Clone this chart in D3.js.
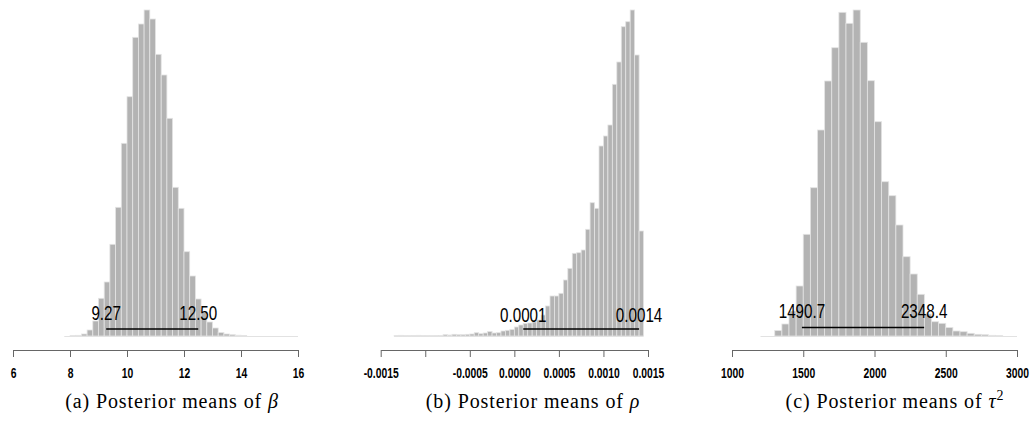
<!DOCTYPE html>
<html>
<head>
<meta charset="utf-8">
<script src="https://cdn.jsdelivr.net/npm/d3@7"></script>
<style>
  body { margin: 0; background: #fff; }
  .ci-label { font-family: "Liberation Sans", Arial, sans-serif; font-size: 20px; fill: #000; }
  .caption { font-family: "Liberation Serif", "Times New Roman", serif; font-size: 20px; letter-spacing: 0.9px; fill: #000; }
</style>
</head>
<body>
<svg id="chart"></svg>
<script>

var svgWidth = 1031;
var svgHeight = 430;

// Histogram data (heights, bins of equal width) //
var betaStart = 7.8, betaWidth = 0.2;
var betaFreq = [0, 0.3, 0.7, 2, 6, 15, 37.7, 54, 91.7, 128.7, 192.7, 239.3, 298.7, 312, 326, 317,
  281.7, 261, 217.7, 148.7, 127.7, 84.3, 60, 37, 23.7, 14, 8, 3.5, 2, 1.3, 0.8, 0.5,
  0, 0, 0, 0, 0, 0, 0, 0, 0];
var betaTicks = [6, 8, 10, 12, 14, 16];
var betaTickLabels = ["6", "8", "10", "12", "14", "16"];
var betaCI = [9.27, 12.50];
var betaCILabels = ["9.27", "12.50"];

var rhoStart = -0.00135, rhoWidth = 0.00005;
var rhoFreq = [0.3, 0.7, 0.3, 0.3, 0.5, 0.7, 0.3, 0.3, 0.3, 0.5, 0.5, 1.3, 1, 1.7, 1.3, 1.3, 1.7, 2,
  3.3, 2.3, 3, 4.5, 3, 3.3, 5, 5.7, 6.5, 9, 11, 12.5, 13, 14, 16, 21, 30, 40, 40, 42.7, 56, 67.7,
  82.7, 83.3, 86, 106.7, 133.3, 127.7, 190, 200, 211, 251.7, 274, 309.3, 314.3, 326, 281, 105];
var rhoTicks = [-0.0015, -0.001, -0.0005, 0, 0.0005, 0.001, 0.0015];
var rhoTickLabels = ["-0.0015", "", "-0.0005", "0.0000", "0.0005", "0.0010", "0.0015"];
var rhoCI = [0.0001, 0.0014];
var rhoCILabels = ["0.0001", "0.0014"];

var tauStart = 1200, tauWidth = 50;
var tauFreq = [0, 0, 5.5, 12, 25, 50, 101.7, 148.3, 206, 255, 288.3, 323.7, 312.7, 326, 293.7, 255.3,
  214.3, 154.3, 140.3, 111, 79.3, 62, 41.7, 22, 14.3, 12.7, 8.5, 5, 4.3, 2.7, 1.7, 1.3, 0.7, 0.3, 0, 0];
var tauTicks = [1000, 1500, 2000, 2500, 3000];
var tauTickLabels = ["1000", "1500", "2000", "2500", "3000"];
var tauCI = [1490.7, 2348.4];
var tauCILabels = ["1490.7", "2348.4"];

// Layout //
var baseY = 336, topY = 10, axisY = 350, captionY = 408;

var panels = [
  { start: betaStart, width: betaWidth, freq: betaFreq, ticks: betaTicks, tickLabels: betaTickLabels,
    ci: betaCI, ciLabels: betaCILabels, domain: [6, 16], range: [13, 298], ciY: 329, labelY: 320,
    captionX: 172, caption: ["(a) Posterior means of ", "β", ""] },
  { start: rhoStart, width: rhoWidth, freq: rhoFreq, ticks: rhoTicks, tickLabels: rhoTickLabels,
    ci: rhoCI, ciLabels: rhoCILabels, domain: [-0.0015, 0.0015], range: [380.7, 648], ciY: 329, labelY: 321.5,
    captionX: 533, caption: ["(b) Posterior means of ", "ρ", ""] },
  { start: tauStart, width: tauWidth, freq: tauFreq, ticks: tauTicks, tickLabels: tauTickLabels,
    ci: tauCI, ciLabels: tauCILabels, domain: [1000, 3000], range: [732, 1017], ciY: 327.5, labelY: 318,
    captionX: 895, caption: ["(c) Posterior means of ", "τ", "2"] }
];

var svg = d3.select("#chart")
  .attr("width", svgWidth)
  .attr("height", svgHeight);

panels.forEach(function(p) {
  var xScale = d3.scaleLinear().domain(p.domain).range(p.range);
  var yScale = d3.scaleLinear().domain([0, d3.max(p.freq)]).range([baseY, topY]);

  var bins = p.freq.map(function(f, i) {
    return { x0: p.start + i * p.width, x1: p.start + (i + 1) * p.width, f: f };
  });

  var g = svg.append("g");

  // zero-count bins show up as a faint line
  g.append("line")
    .attr("x1", xScale(bins[0].x0))
    .attr("x2", xScale(bins[bins.length - 1].x1))
    .attr("y1", baseY + 0.5)
    .attr("y2", baseY + 0.5)
    .attr("stroke", "#e2e2e2")
    .attr("stroke-width", 1);

  // Bars //
  g.selectAll("rect")
    .data(bins.filter(function(d) { return d.f > 0; }))
    .enter()
    .append("rect")
    .attr("x", function(d) { return xScale(d.x0); })
    .attr("width", function(d) { return xScale(d.x1) - xScale(d.x0); })
    .attr("y", function(d) { return yScale(d.f); })
    .attr("height", function(d) { return baseY - yScale(d.f); })
    .attr("fill", "#b3b3b3")
    .attr("stroke", "#e4e4e4")
    .attr("stroke-width", 0.8);

  // Interval line and its labels //
  g.append("line")
    .attr("x1", xScale(p.ci[0]))
    .attr("x2", xScale(p.ci[1]))
    .attr("y1", p.ciY)
    .attr("y2", p.ciY)
    .attr("stroke", "#000")
    .attr("stroke-width", 1.3);

  p.ci.forEach(function(v, i) {
    g.append("text")
      .attr("class", "ci-label")
      .attr("text-anchor", "middle")
      .attr("transform", "translate(" + xScale(v) + "," + p.labelY + ") scale(0.76,1)")
      .text(p.ciLabels[i]);
  });

  // Axis //
  var axis = d3.axisBottom(xScale)
    .tickValues(p.ticks)
    .tickFormat(function(d, i) { return p.tickLabels[i]; })
    .tickSize(7)
    .tickSizeOuter(0)
    .tickPadding(10);

  var axisG = g.append("g")
    .attr("transform", "translate(0," + axisY + ")")
    .call(axis);
  axisG.attr("font-size", null).attr("font-family", null);
  axisG.select(".domain").attr("stroke", "#666");
  axisG.selectAll(".tick line").attr("stroke", "#666");
  axisG.selectAll(".tick text")
    .style("font-family", "'Liberation Sans', Arial, sans-serif")
    .style("font-size", "15px")
    .style("font-weight", "bold")
    .attr("fill", "#000")
    .attr("transform", "scale(0.69,1)");

  // Caption //
  var cap = svg.append("text")
    .attr("class", "caption")
    .attr("x", p.captionX)
    .attr("y", captionY)
    .attr("text-anchor", "middle");
  cap.append("tspan").text(p.caption[0]);
  cap.append("tspan").attr("font-style", "italic").text(p.caption[1]);
  if (p.caption[2]) {
    cap.append("tspan").attr("font-size", "14px").attr("dy", "-8").text(p.caption[2]);
  }
});
</script>
</body>
</html>
